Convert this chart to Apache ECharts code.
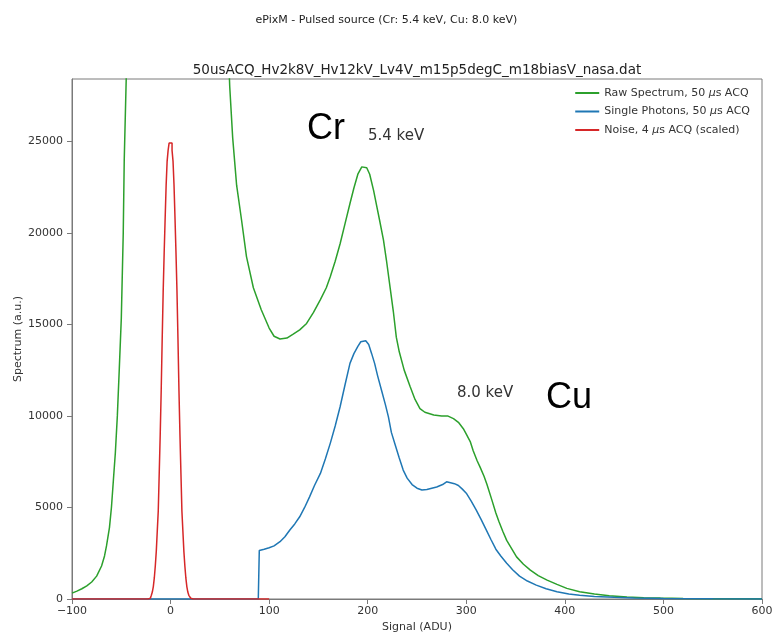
<html>
    <head>
        <meta charset="utf-8">
        <script src='https://cdn.jsdelivr.net/npm/echarts@6/dist/echarts.min.js'></script>
    </head>
    <body>
        <style>
            html, body, #main {
                width: 100%;
                height: 100%;
                margin: 0;
                background: #fff;
            }
        </style>
        <div id='main'></div>
        <script>
            // Raw spectrum (green)
            var rawAdu = [-100, -95, -90, -85, -80, -75, -70, -67, -65, -62, -60, -58, -56, -54, -52, -50, -48, -47, -45, -44,
                58, 60, 63, 67, 72, 77, 84, 92, 100, 105, 111, 118, 124, 131, 138, 145, 152, 158, 162, 167, 172, 177, 182, 186,
                190, 194, 196, 199, 202, 206, 209, 212, 216, 219, 223, 226, 229, 232, 237, 243, 248, 253, 258, 267, 275, 281,
                287, 292, 297, 300, 304, 307, 311, 314, 318, 321, 326, 330, 333, 337, 341, 346, 351, 358, 365, 373, 382, 392,
                402, 415, 430, 445, 463, 480, 497, 520, 550, 600];
            var rawCounts = [320, 430, 560, 720, 930, 1250, 1800, 2350, 2900, 3900, 5000, 6500, 8000, 10000, 12600, 15300, 20000, 24000, 28400, 31000,
                31000, 28000, 25200, 22600, 20700, 18700, 17000, 15800, 14800, 14350, 14200, 14250, 14450, 14700, 15050, 15650, 16350, 17000, 17600, 18450, 19400, 20500, 21600, 22450,
                23200, 23600, 23700, 23550, 23200, 22300, 21500, 20700, 19600, 18500, 16900, 15700, 14300, 13500, 12500, 11600, 10900, 10400, 10200, 10050, 10000, 10000,
                9850, 9650, 9300, 9000, 8600, 8100, 7550, 7200, 6700, 6250, 5400, 4700, 4250, 3700, 3200, 2750, 2300, 1900, 1580, 1280, 1030, 800,
                580, 400, 270, 180, 110, 70, 50, 30, 20, 15];

            // Single photons (blue)
            var singleAdu = [-100, 89, 90, 95, 100, 105, 111, 116, 121, 126, 131, 136, 141, 146, 152, 157, 162, 167, 172, 177, 182, 186, 190, 193,
                195, 198, 201, 204, 207, 210, 214, 218, 221, 224, 228, 232, 236, 240, 245, 250, 255, 260, 265, 270, 276, 280, 284, 288,
                292, 296, 300, 305, 310, 315, 320, 325, 330, 335, 341, 347, 354, 362, 371, 381, 392, 404, 415, 430, 450, 470, 500, 550, 600];
            var singleCounts = [0, 0, 2650, 2720, 2800, 2900, 3130, 3400, 3770, 4100, 4490, 5000, 5580, 6200, 6860, 7650, 8500, 9450, 10500, 11700, 12870, 13400, 13800, 14050,
                14150, 14100, 13900, 13400, 12870, 12200, 11400, 10600, 9950, 9100, 8400, 7700, 7040, 6600, 6250, 6050, 5950, 5980, 6050, 6120, 6250, 6400, 6350, 6300,
                6200, 6000, 5780, 5350, 4870, 4350, 3800, 3250, 2720, 2350, 1950, 1600, 1250, 980, 760, 560, 400, 270, 210, 140, 90, 55, 30, 12, 5];

            // Noise, 4 us ACQ (red, scaled)
            var noiseAdu = [-100, -23, -22, -21, -20, -19, -18, -17, -16, -15, -14, -13, -12, -11, -10, -9, -8, -7, -6, -5, -4, -3, -2, -1, 0,
                1, 2, 3, 4, 5, 6, 7, 8, 9, 10, 11, 12, 13, 14, 15, 16, 17, 18, 19, 20, 21, 22, 23, 100];
            var noiseCounts = [0, 0, 10, 40, 100, 200, 380, 680, 1150, 1800, 2600, 3700, 4800, 6900, 9000, 11400, 14200, 16800, 18900, 20800, 22600, 23900, 24500, 24900, 25000,
                24900, 24500, 23900, 22600, 20800, 18900, 16800, 14200, 11400, 9000, 6900, 4800, 3700, 2600, 1800, 1150, 680, 380, 200, 100, 40, 10, 0, 0];

            var xTicks = [-100, 0, 100, 200, 300, 400, 500, 600];
            var yTicks = [0, 5000, 10000, 15000, 20000, 25000];

            function pairs(xs, ys) {
                return xs.map(function (x, i) { return [x, ys[i]]; });
            }

            var font = 'DejaVu Sans';
            var frame = '#7a7a7a';

            var chart = echarts.init(document.getElementById('main'));

            var option = {
                backgroundColor: '#fff',
                animation: false,
                title: [{
                    text: 'ePixM - Pulsed source (Cr: 5.4 keV, Cu: 8.0 keV)',
                    left: 'center',
                    top: 10,
                    textStyle: { fontFamily: font, fontSize: 11, fontWeight: 'normal', color: '#222' }
                }, {
                    text: '50usACQ_Hv2k8V_Hv12kV_Lv4V_m15p5degC_m18biasV_nasa.dat',
                    left: 412,
                    textAlign: 'center',
                    top: 58,
                    textStyle: { fontFamily: font, fontSize: 13.5, fontWeight: 'normal', color: '#222' }
                }],
                legend: {
                    orient: 'vertical',
                    right: 18,
                    top: 82,
                    icon: 'rect',
                    itemWidth: 24,
                    itemHeight: 2,
                    itemGap: 6.5,
                    textStyle: {
                        fontFamily: font, fontSize: 11, color: '#333', lineHeight: 12,
                        rich: { i: { fontFamily: font, fontSize: 11, fontStyle: 'italic', color: '#333' } }
                    },
                    formatter: function (name) {
                        return name.replace('μ', '{i|μ}');
                    },
                    data: ['Raw Spectrum, 50 μs ACQ', 'Single Photons, 50 μs ACQ', 'Noise, 4 μs ACQ (scaled)']
                },
                grid: {
                    left: 72, right: 11, top: 79, bottom: 35,
                    outerBoundsMode: 'none',
                    containLabel: false,
                    show: true, borderColor: frame, borderWidth: 1
                },
                xAxis: {
                    type: 'value',
                    min: xTicks[0], max: xTicks[xTicks.length - 1], interval: 100,
                    name: 'Signal (ADU)',
                    nameLocation: 'middle',
                    nameGap: 23,
                    nameTextStyle: { fontFamily: font, fontSize: 11, color: '#333' },
                    axisLine: { onZero: false, lineStyle: { color: frame } },
                    axisTick: { inside: false, length: 5, lineStyle: { color: frame } },
                    axisLabel: {
                        fontFamily: font, fontSize: 11, color: '#333', margin: 7,
                        formatter: function (v) { return String(v).replace('-', '\u2212'); }
                    },
                    splitLine: { show: false }
                },
                yAxis: {
                    type: 'value',
                    min: 0, max: 28400, interval: 5000,
                    name: 'Spectrum (a.u.)',
                    nameLocation: 'middle',
                    nameGap: 48,
                    nameMoveOverlap: false,
                    nameTextStyle: { fontFamily: font, fontSize: 11, color: '#333' },
                    axisLine: { show: true, onZero: false, lineStyle: { color: frame } },
                    axisTick: { show: true, inside: false, length: 5, lineStyle: { color: frame } },
                    axisLabel: {
                        fontFamily: font, fontSize: 11, color: '#333', margin: 9,
                        showMaxLabel: false,
                        formatter: function (v) { return String(v); }
                    },
                    splitLine: { show: false }
                },
                series: [{
                    name: 'Raw Spectrum, 50 μs ACQ',
                    type: 'line',
                    symbol: 'none',
                    color: '#2ca02c',
                    lineStyle: { width: 1.5 },
                    clip: true,
                    data: pairs(rawAdu, rawCounts)
                }, {
                    name: 'Single Photons, 50 μs ACQ',
                    type: 'line',
                    symbol: 'none',
                    color: '#1f77b4',
                    lineStyle: { width: 1.5 },
                    clip: true,
                    data: pairs(singleAdu, singleCounts)
                }, {
                    name: 'Noise, 4 μs ACQ (scaled)',
                    type: 'line',
                    symbol: 'none',
                    step: 'middle',
                    color: '#d62728',
                    lineStyle: { width: 1.5 },
                    clip: true,
                    data: pairs(noiseAdu, noiseCounts)
                }],
                graphic: [
                    { type: 'text', left: 307, top: 111, style: { text: 'Cr', font: '36px "Liberation Sans"', fill: '#000' } },
                    { type: 'text', left: 368, top: 129, style: { text: '5.4 keV', font: '15px "DejaVu Sans"', fill: '#333' } },
                    { type: 'text', left: 457, top: 386, style: { text: '8.0 keV', font: '15px "DejaVu Sans"', fill: '#333' } },
                    { type: 'text', left: 546, top: 380, style: { text: 'Cu', font: '36px "Liberation Sans"', fill: '#000' } }
                ]
            };

            chart.setOption(option);
            window.onresize = chart.resize;
        </script>
    </body>
</html>
